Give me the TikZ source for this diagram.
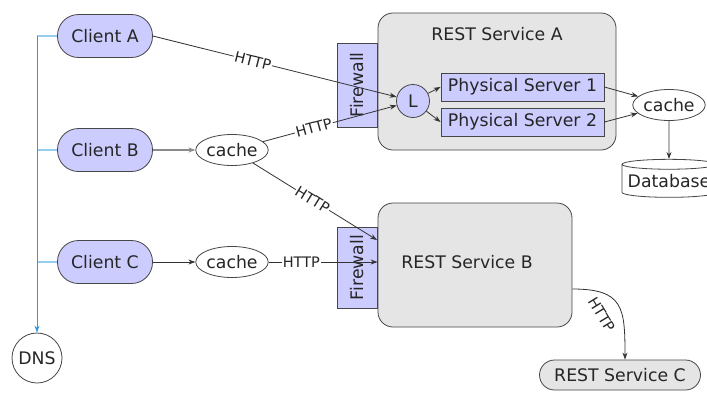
\documentclass[tikz,border=0pt]{standalone}
\usepackage{fontspec}
\setmainfont{DejaVu Sans}
\usetikzlibrary{arrows.meta,shapes.geometric,calc}
\definecolor{lav}{RGB}{204,204,255}
\definecolor{svc}{RGB}{229,229,229}
\definecolor{edgec}{RGB}{70,70,70}
\definecolor{dnsblue}{RGB}{40,155,225}
\definecolor{stubblue}{RGB}{150,205,240}
\begin{document}
\begin{tikzpicture}[x=1pt,y=-1pt,
  every node/.style={font=\fontsize{17.3}{20}\selectfont, text=black!85},
  outl/.style={draw=edgec, line width=0.8pt},
  client/.style={outl, fill=lav, rounded corners=21pt, minimum width=95pt, minimum height=43pt, inner sep=0pt},
  cachenode/.style={outl, ellipse, fill=white, minimum width=62pt, minimum height=31pt, inner sep=0pt},
  fw/.style={outl, fill=lav, rotate=90, minimum height=40pt, inner sep=0pt},
  service/.style={outl, fill=svc, rounded corners=15pt, inner sep=0pt},
  server/.style={outl, fill=lav, minimum width=163pt, minimum height=28pt, inner sep=0pt},
  tip/.style={-{Stealth[length=7pt,width=5pt]}},
  conn/.style={draw=black!80, line width=0.8pt, tip},
  lblfont/.style={font=\fontsize{14.5}{16}\selectfont},
  lbl/.style={lblfont, fill=white, inner sep=1pt},
  stub/.style={draw=stubblue, line width=1.4pt},
  ]
\path[use as bounding box, fill=white] (0,0) rectangle (707,392);
% nodes
\node[client] (cA) at (105,36) {Client A};
\node[client] (cB) at (105,150) {Client B};
\node[client] (cC) at (105,262) {Client C};
\node[outl, circle, fill=white, minimum size=50pt, inner sep=0pt] (dns) at (37,358) {DNS};
\node[cachenode] (kB) at (232,150) {cache};
\node[cachenode] (kC) at (232,262) {cache};
\node[fw, minimum width=84pt] (fwA) at (357,85) {Firewall};
\node[fw, minimum width=81pt] (fwB) at (357,267.5) {Firewall};
\node[service, minimum width=238pt, minimum height=137pt] (rA) at (497,81.5) {};
\node (rAt) at (497,34) {REST Service A};
\node[service, minimum width=194pt, minimum height=124pt] (rB) at (475,265) {};
\node (rBt) at (467,262) {REST Service B};
\node[outl, circle, fill=lav, minimum size=33pt, inner sep=0pt] (L) at (413,101) {L};
\node[server] (ps1) at (522.5,87) {Physical Server 1};
\node[server] (ps2) at (522.5,122) {Physical Server 2};
\node[cachenode] (kA) at (669,105) {cache};
\node[outl, cylinder, shape border rotate=90, aspect=0.12, fill=white, minimum width=94pt, minimum height=38pt, inner sep=0pt] (db) at (669,181) {Database};
\node[service, minimum width=161pt, minimum height=30pt] (rC) at (620,375) {REST Service C};
\coordinate (inB1) at (377,240);
% DNS lookups
\draw[stub] (cA.west) -- (cA.west -| dns.north);
\draw[stub] (cB.west) -- (cB.west -| dns.north);
\draw[stub] (cC.west) -- (cC.west -| dns.north);
\draw[draw=dnsblue, line width=0.8pt, tip] (cA.west -| dns.north) -- (dns.north);
% connectors
\draw[conn] (cA.east) -- node[lbl, sloped, pos=0.41]{HTTP} (L);
\draw[conn, draw=black!45, line width=1.3pt] (cB) -- (kB);
\draw[conn] (cC) -- (kC);
\draw[conn] (kB) -- node[lbl, sloped, pos=0.38]{HTTP} (L);
\draw[conn] (kB) -- node[lbl, sloped, pos=0.48]{HTTP} (inB1);
\draw[conn] (kC) -- node[lbl, pos=0.3]{HTTP} (kC -| rB.west);
\draw[conn] (L) -- (ps1.west);
\draw[conn] (L) -- (ps2.west);
\draw[conn] (ps1.east) -- (kA);
\draw[conn] (ps2.east) -- (kA);
\draw[conn] (kA) -- (db);
\draw[conn] ($(rB.east)+(0,24)$) .. controls +(51,0) and +(0,-52) .. node[lblfont, sloped, below=10pt, pos=0.5]{HTTP} ($(rC.north)+(5,0)$);
\end{tikzpicture}
\end{document}
